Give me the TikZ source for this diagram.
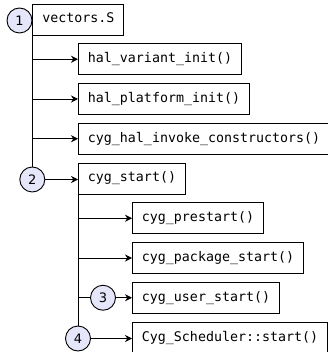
\documentclass[tikz,border=0pt]{standalone}
\usepackage{fontspec}
\newfontfamily\monof{DejaVu Sans Mono}
\newfontfamily\sansf{DejaVu Sans}
\usetikzlibrary{arrows.meta}
\definecolor{lav}{RGB}{230,230,250}
\begin{document}
\begin{tikzpicture}[x=1pt,y=-1pt,
  fn/.style={draw, line width=0.9pt, anchor=west, minimum height=31pt, inner xsep=9.5pt, inner ysep=0pt,
    text height=10pt, text depth=3pt, font=\monof\fontsize{13.3}{15}\selectfont},
  num/.style={circle, draw, fill=lav, minimum size=25pt, inner sep=0pt, line width=0.9pt,
    font=\sansf\fontsize{13}{15}\selectfont},
  link/.style={line width=0.9pt},
  arr/.style={link, -{Stealth[length=7pt,width=7pt]}}]
\useasboundingbox (0,0) rectangle (328,352);
\node[fn] (v)  at (32.3,19.5)  {vectors.S};
\node[fn] (hv) at (78,59.25)   {hal\_variant\_init()};
\node[fn] (hp) at (78,99)      {hal\_platform\_init()};
\node[fn] (hc) at (78,138.75)  {cyg\_hal\_invoke\_constructors()};
\node[fn] (cs) at (78,178.5)   {cyg\_start()};
\node[fn] (cp) at (132,218.25) {cyg\_prestart()};
\node[fn] (ck) at (132,258)    {cyg\_package\_start()};
\node[fn] (cu) at (132,297.75) {cyg\_user\_start()};
\node[fn] (cS) at (132,337.5)  {Cyg\_Scheduler::start()};
\node[num] (c1) at (19.5,20.5) {1};
\node[num] (c2) at (32.3,179.5) {2};
\node[num] (c3) at (103,297.75) {3};
\node[num] (c4) at (78,338.5) {4};
\draw[link] (v.south west) -- (c2.north);
\draw[arr] (v.south west |- hv.west) -- (hv.west);
\draw[arr] (v.south west |- hp.west) -- (hp.west);
\draw[arr] (v.south west |- hc.west) -- (hc.west);
\draw[arr] (c2.east) -- (c2.east -| cs.west);
\draw[link] (cs.south west) -- (c4.north);
\draw[arr] (cs.south west |- cp.west) -- (cp.west);
\draw[arr] (cs.south west |- ck.west) -- (ck.west);
\draw[link] (cs.south west |- cu.west) -- (c3.west);
\draw[arr] (c3.east) -- (cu.west);
\draw[arr] (c4.east) -- (c4.east -| cS.west);
\end{tikzpicture}
\end{document}
